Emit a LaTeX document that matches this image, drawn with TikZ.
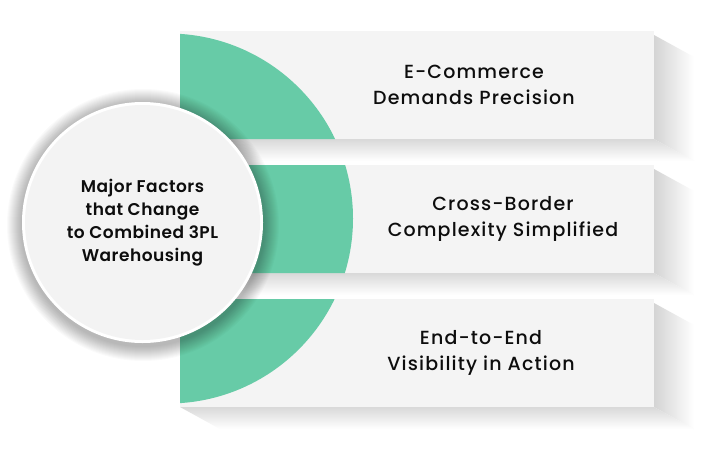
\documentclass[tikz,border=0pt]{standalone}
\usepackage{fontspec}
\setmainfont{Poppins}
\newfontfamily\pmed[LetterSpace=6]{Poppins Medium}
\newfontfamily\psemi[LetterSpace=3]{Poppins SemiBold}
\definecolor{gcol}{HTML}{67CBA7}
\definecolor{boxgray}{HTML}{F4F4F4}
\definecolor{circgray}{HTML}{F3F3F3}
\tikzset{
  rectbox/.style={fill=boxgray, minimum width=474pt, minimum height=108pt, inner sep=0pt, outer sep=0pt},
  boxtext/.style={align=center, text=black!95, font=\pmed\fontsize{19}{26}\selectfont},
  circtext/.style={align=center, text=black!95, font=\psemi\fontsize{17}{23}\selectfont},
}
\begin{document}
\begin{tikzpicture}[x=1pt,y=-1pt]
\useasboundingbox (0,0) rectangle (711,453);
\fill[white] (0,0) rectangle (711,453);
% cast shadows of the boxes
\foreach \t/\b in {31/139,165/273,299/407}{
  \shade[left color=black!17, right color=white] (654,\t+4) -- (694,\t+26) -- (694,\b+22) -- (654,\b) -- cycle;
  \shade[top color=black!15, bottom color=white] (180,\b) -- (654,\b) -- (694,\b+22) -- (220,\b+22) -- cycle;
}
% boxes
\node[rectbox] (r1) at (417,85) {};
\node[rectbox] (r2) at (417,219) {};
\node[rectbox] (r3) at (417,353) {};
% green disc clipped to the boxes
\begin{scope}
  \clip (r1.south west) rectangle (r1.north east)
        (r2.south west) rectangle (r2.north east)
        (r3.south west) rectangle (r3.north east);
  \fill[gcol] (168,218.5) circle (185);
\end{scope}
% soft shadow of the circle
\foreach \i in {0,...,14}{
  \fill[black, opacity=0.02] (143,225) circle ({121+15-\i});
}
% circle
\node[circle, fill=white, minimum size=241pt, inner sep=0pt] (c) at (142.5,222.5) {};
\fill[circgray] (c.center) circle (117.5);
% texts
\node[circtext] (ct) at (c.center) {Major Factors\\that Change\\to Combined 3PL\\Warehousing};
\node[boxtext] (t1) at (474,85) {E-Commerce\\Demands Precision};
\node[boxtext] (t2) at (503,219) {Cross-Border\\Complexity Simplified};
\node[boxtext] (t3) at (481,353) {End-to-End\\Visibility in Action};
\end{tikzpicture}
\end{document}
